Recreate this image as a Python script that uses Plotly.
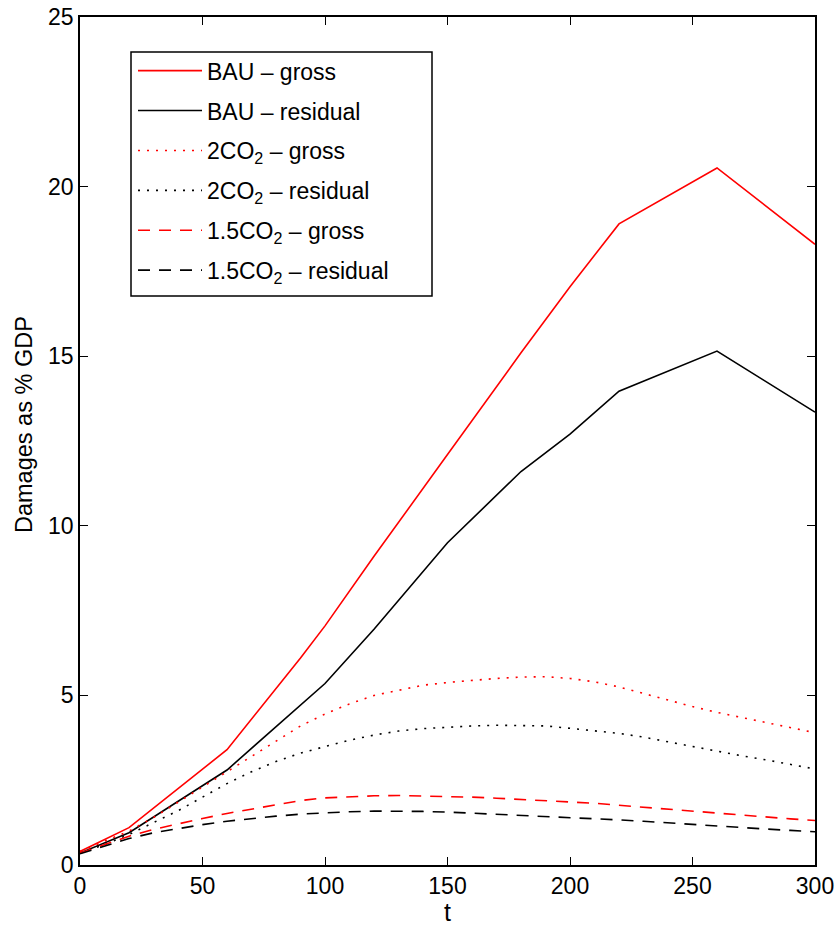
import plotly.graph_objects as go

# Solid (BAU) series vertices
t_bau = [0, 20, 60, 90, 100, 120, 150, 180, 200, 220, 260, 300]
bau_gross = [0.4, 1.1, 3.4, 6.1, 7.05, 9.1, 12.1, 15.1, 17.05, 18.9, 20.55, 18.3]
bau_resid = [0.35, 0.95, 2.8, 4.7, 5.35, 6.95, 9.5, 11.6, 12.7, 13.97, 15.15, 13.35]

# Stabilisation scenarios
t_stab = list(range(0, 301, 10))
co2x2_gross = [0.4, 0.7, 1.0, 1.4, 1.85, 2.3, 2.75, 3.2, 3.65, 4.1, 4.45, 4.75, 5.0, 5.15,
               5.3, 5.38, 5.45, 5.5, 5.54, 5.55, 5.5, 5.4, 5.25, 5.05, 4.85, 4.67, 4.5,
               4.35, 4.2, 4.05, 3.9]
co2x2_resid = [0.35, 0.6, 0.9, 1.25, 1.6, 2.0, 2.4, 2.75, 3.05, 3.3, 3.5, 3.68, 3.83, 3.95,
               4.02, 4.07, 4.1, 4.12, 4.12, 4.1, 4.03, 3.96, 3.88, 3.77, 3.63, 3.5, 3.35,
               3.22, 3.1, 2.97, 2.83]
co2x15_gross = [0.35, 0.6, 0.85, 1.05, 1.22, 1.37, 1.52, 1.65, 1.78, 1.9, 1.98, 2.02, 2.04,
                2.05, 2.04, 2.02, 2.0, 1.97, 1.93, 1.9, 1.87, 1.82, 1.76, 1.7, 1.65, 1.59,
                1.53, 1.47, 1.41, 1.36, 1.31]
co2x15_resid = [0.33, 0.55, 0.78, 0.95, 1.08, 1.19, 1.29, 1.37, 1.44, 1.5, 1.54, 1.57, 1.59,
                1.59, 1.58, 1.56, 1.53, 1.5, 1.47, 1.44, 1.41, 1.37, 1.33, 1.29, 1.24, 1.19,
                1.15, 1.1, 1.06, 1.02, 0.98]

names = ["BAU – gross", "BAU – residual", "2CO<sub>2</sub> – gross",
         "2CO<sub>2</sub> – residual", "1.5CO<sub>2</sub> – gross", "1.5CO<sub>2</sub> – residual"]

FONT = "Liberation Sans, Arial, Helvetica, sans-serif"
fig = go.Figure()
series = [
    (t_bau, bau_gross, "red", "solid"),
    (t_bau, bau_resid, "black", "solid"),
    (t_stab, co2x2_gross, "red", "2px,7px"),
    (t_stab, co2x2_resid, "black", "2px,7px"),
    (t_stab, co2x15_gross, "red", "12px,9px"),
    (t_stab, co2x15_resid, "black", "12px,9px"),
]
for i, ((x, y, c, d), n) in enumerate(zip(series, names)):
    fig.add_trace(go.Scatter(x=x, y=y, mode="lines", name=n, legendgroup=f"g{i}",
                             line=dict(color=c, width=1.6, dash=d)))

axis_common = dict(showgrid=False, zeroline=False, showline=True, linecolor="black",
                   linewidth=1.5, mirror="ticks", ticks="inside", ticklen=8,
                   tickcolor="black", tickwidth=1, automargin=False,
                   tickfont=dict(family=FONT, size=23, color="black"))
fig.update_xaxes(range=[0, 300], dtick=50, title=dict(text="t", standoff=0,
                 font=dict(family=FONT, size=25, color="black")), **axis_common)
fig.update_yaxes(range=[0, 25], dtick=5, **axis_common)

fig.add_annotation(text="Damages as % GDP", textangle=-90, xref="paper", yref="paper",
                   x=(24 - 80) / 735, y=(865 - 425) / 848, xanchor="center", yanchor="middle",
                   showarrow=False, font=dict(family=FONT, size=23.5, color="black"))

# legend frame (wider than the entries, as in the original)
fig.add_shape(type="rect", xref="paper", yref="paper",
              x0=(131 - 80) / 735, x1=(432 - 80) / 735,
              y0=(865 - 296) / 848, y1=(865 - 52) / 848,
              line=dict(color="black", width=1.5), fillcolor="white", layer="above")

fig.update_layout(
    width=837, height=926,
    margin=dict(l=80, r=22, t=17, b=61),
    plot_bgcolor="white", paper_bgcolor="white",
    font=dict(family=FONT, color="black"),
    legend=dict(x=(133 - 80) / 735, y=0.962, xanchor="left", yanchor="top",
                bgcolor="rgba(0,0,0,0)", borderwidth=0,
                font=dict(family=FONT, size=23, color="black"),
                itemwidth=64, tracegroupgap=7),
)
fig.write_html("out.html")
